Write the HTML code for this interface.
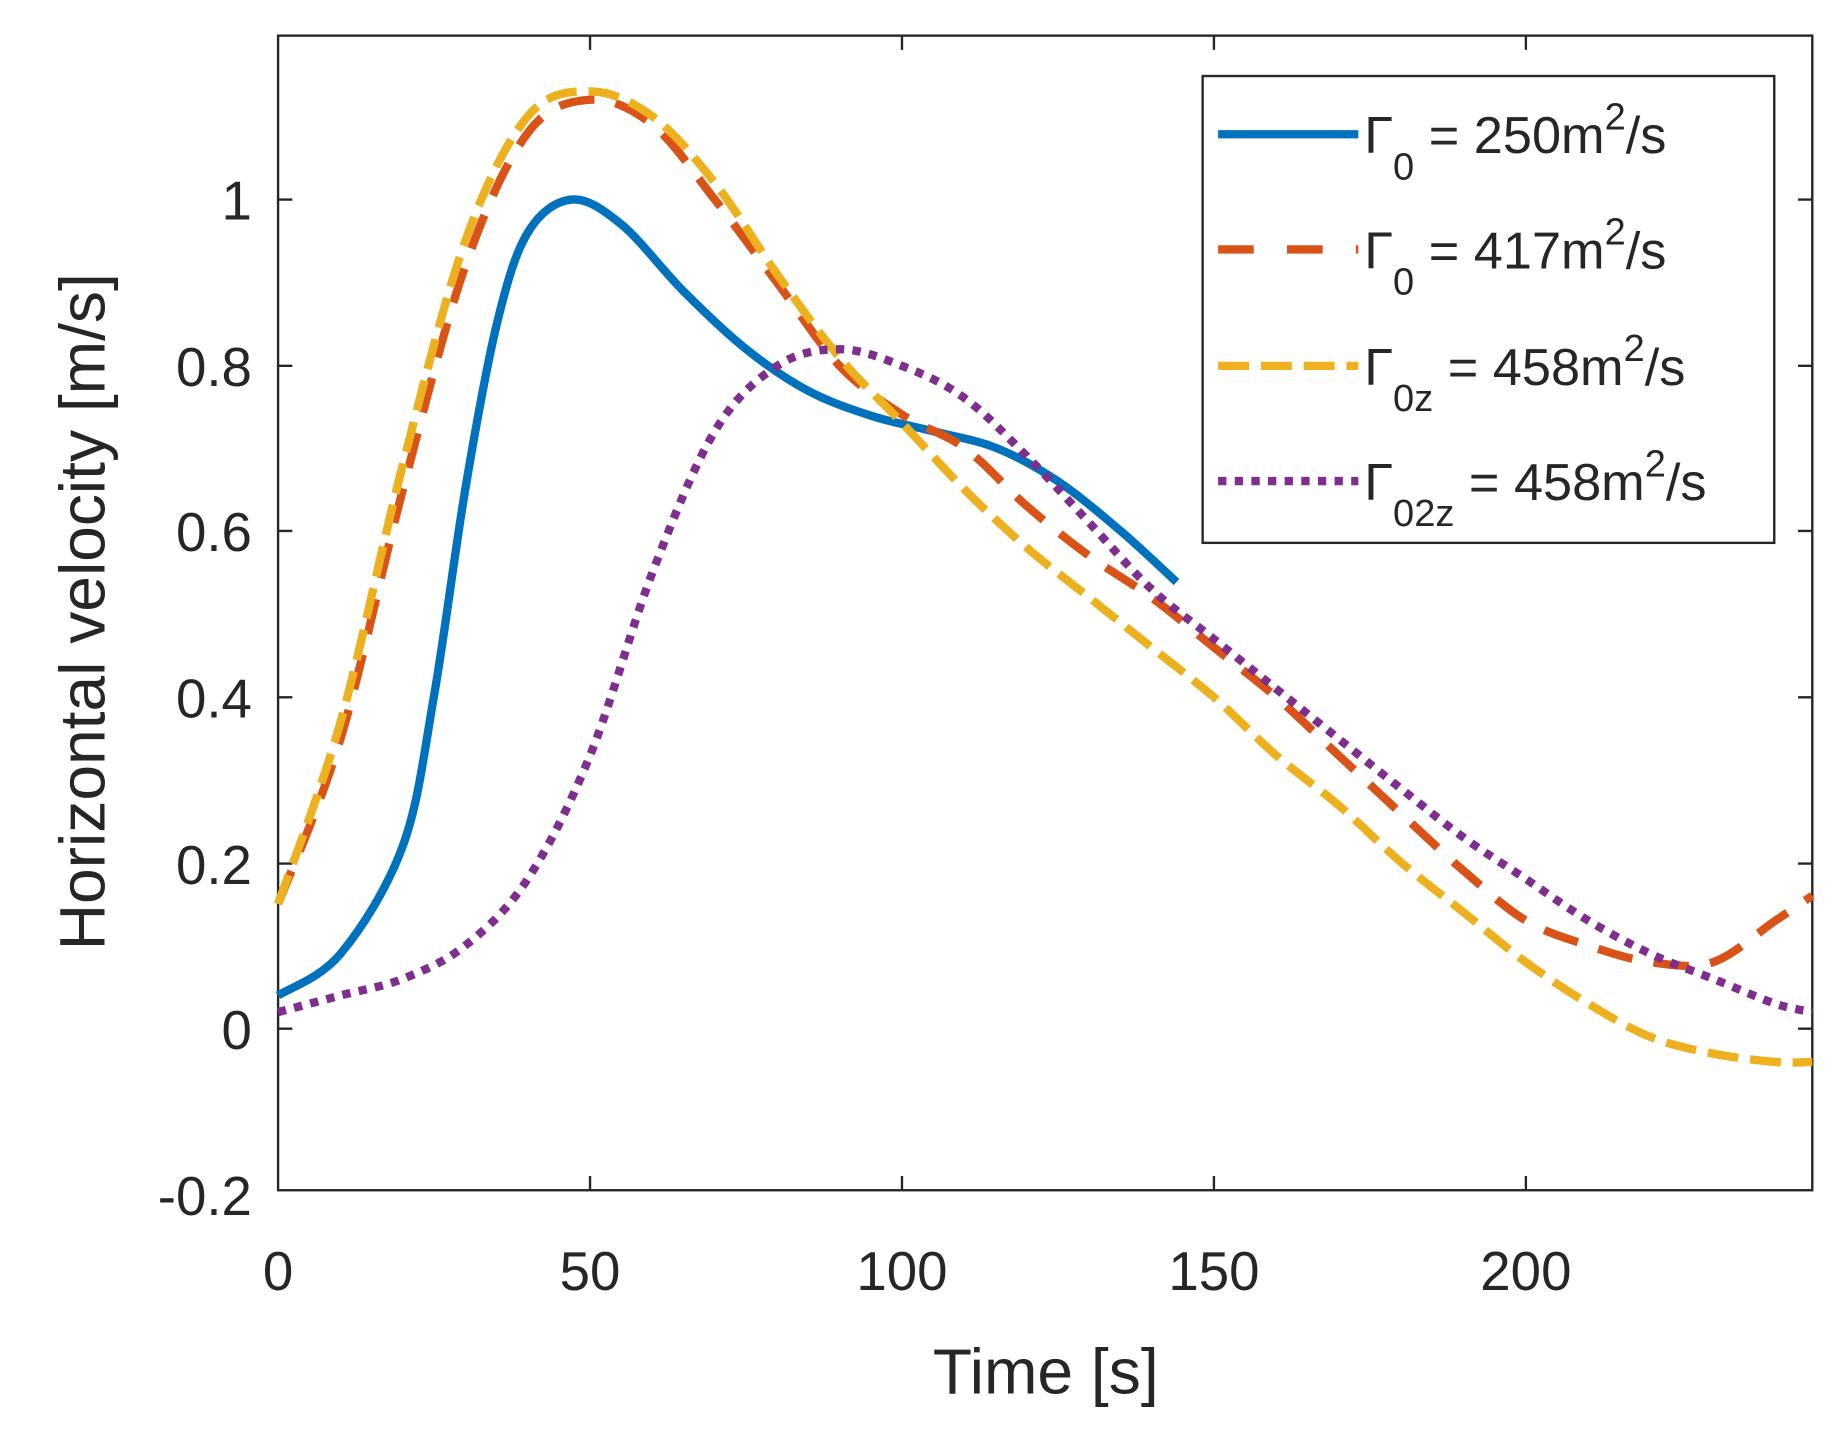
<!DOCTYPE html>
<html><head><style>html,body{margin:0;padding:0;background:#fff}</style></head><body>
<svg id="s" width="1842" height="1429" viewBox="0 0 1550 1203" preserveAspectRatio="none" xmlns="http://www.w3.org/2000/svg" font-family="Liberation Sans, sans-serif" fill="#262626">
<rect x="0" y="0" width="1550" height="1203" fill="#fff"/>
<g stroke="#262626" stroke-width="2" fill="none">
<rect x="234" y="30" width="1291" height="972"/>
<path d="M496.5,1002v-12M759,1002v-12M1021.5,1002v-12M1284,1002v-12M496.5,30v12M759,30v12M1021.5,30v12M1284,30v12"/>
<path d="M234,866h12M234,727h12M234,587h12M234,447h12M234,308h12M234,168h12M1525,866h-12M1525,727h-12M1525,587h-12M1525,447h-12M1525,308h-12M1525,168h-12"/>
</g>
<g font-size="46" text-anchor="end">
<text x="212" y="1023">-0.2</text><text x="212" y="883">0</text><text x="212" y="744">0.2</text><text x="212" y="604">0.4</text><text x="212" y="464">0.6</text><text x="212" y="325">0.8</text><text x="212" y="185">1</text>
</g>
<g font-size="46" text-anchor="middle">
<text x="234" y="1086">0</text><text x="496.5" y="1086">50</text><text x="759" y="1086">100</text><text x="1021.5" y="1086">150</text><text x="1284" y="1086">200</text>
</g>
<text x="880" y="1173" font-size="54" text-anchor="middle">Time [s]</text>
<text transform="translate(88,515) rotate(-90)" font-size="54" text-anchor="middle">Horizontal velocity [m/s]</text>
<g fill="none" stroke-width="7" stroke-linejoin="round">
<polyline class="c" stroke="#0072BD" points="234,838 286.5,803 339,712 365,587 391.5,412 418,273 444,196 481,168 523,189 575,245 628,294 680,329 733,350 785,363 838,377 890,405 943,447 990,490"/>
<polyline class="c" stroke="#D95319" stroke-dasharray="30,18" points="234,761 286.5,622 339,412 391.5,224 444,112 496.5,84 549,105 601.5,168 654,238 706.5,308 759,349 811.5,377 864,426 916.5,468 969,503 1021.5,545 1074,587 1126.5,636 1179,685 1231.5,733 1284,775 1336.5,796 1389,810 1441.5,810 1494,775 1525,754"/>
<polyline class="c" stroke="#EDB120" stroke-dasharray="26,10" points="234,761 286.5,608 339,391 391.5,203 444,98 496.5,77 549,98 601.5,154 654,231 706.5,301 759,356 811.5,412 864,461 916.5,503 969,545 1021.5,587 1074,636 1126.5,678 1179,726 1231.5,768 1284,810 1336.5,845 1389,873 1441.5,887 1494,894 1525,894"/>
<polyline class="c" stroke="#7E2F8E" stroke-dasharray="7,7" points="234,852 286.5,838 339,824 391.5,796 444,740 496.5,636 549,482 601.5,363 654,308 706.5,294 759,308 811.5,335 864,384 916.5,440 969,496 1021.5,538 1074,580 1126.5,622 1179,664 1231.5,705 1284,740 1336.5,775 1389,803 1441.5,824 1494,845 1525,852"/>
</g>
<rect x="1012" y="64" width="481" height="393" fill="#fff" stroke="#262626" stroke-width="2"/>
<g fill="none" stroke-width="7">
<path d="M1025,113h118" stroke="#0072BD"/>
<path d="M1025,210h118" stroke="#D95319" stroke-dasharray="30,28"/>
<path d="M1025,308h118" stroke="#EDB120" stroke-dasharray="26,10"/>
<path d="M1025,405h118" stroke="#7E2F8E" stroke-dasharray="7,7"/>
</g>
<g font-size="44">
<text x="1148" y="129">Γ<tspan font-size="32" dy="22">0</tspan><tspan dy="-22"> = 250m</tspan><tspan font-size="32" dy="-20">2</tspan><tspan dy="20">/s</tspan></text>
<text x="1148" y="226">Γ<tspan font-size="32" dy="22">0</tspan><tspan dy="-22"> = 417m</tspan><tspan font-size="32" dy="-20">2</tspan><tspan dy="20">/s</tspan></text>
<text x="1148" y="324">Γ<tspan font-size="32" dy="22">0z</tspan><tspan dy="-22"> = 458m</tspan><tspan font-size="32" dy="-20">2</tspan><tspan dy="20">/s</tspan></text>
<text x="1148" y="421">Γ<tspan font-size="32" dy="22">02z</tspan><tspan dy="-22"> = 458m</tspan><tspan font-size="32" dy="-20">2</tspan><tspan dy="20">/s</tspan></text>
</g>
</svg>
<script>
document.querySelectorAll('polyline.c').forEach(function(pl){
  var p=pl.getAttribute('points').trim().split(/\s+/).map(function(s){return s.split(',').map(Number);});
  var d='M'+p[0][0]+','+p[0][1];
  for(var i=0;i<p.length-1;i++){
    var p0=p[i-1]||p[i],p1=p[i],p2=p[i+1],p3=p[i+2]||p2;
    var c1x=p1[0]+(p2[0]-p0[0])/6,c1y=p1[1]+(p2[1]-p0[1])/6;
    var c2x=p2[0]-(p3[0]-p1[0])/6,c2y=p2[1]-(p3[1]-p1[1])/6;
    d+=' C'+c1x.toFixed(1)+','+c1y.toFixed(1)+' '+c2x.toFixed(1)+','+c2y.toFixed(1)+' '+p2[0]+','+p2[1];
  }
  var path=document.createElementNS('http://www.w3.org/2000/svg','path');
  ['stroke','stroke-dasharray'].forEach(function(a){if(pl.getAttribute(a))path.setAttribute(a,pl.getAttribute(a));});
  path.setAttribute('d',d);
  pl.parentNode.replaceChild(path,pl);
});
</script>
</body></html>
